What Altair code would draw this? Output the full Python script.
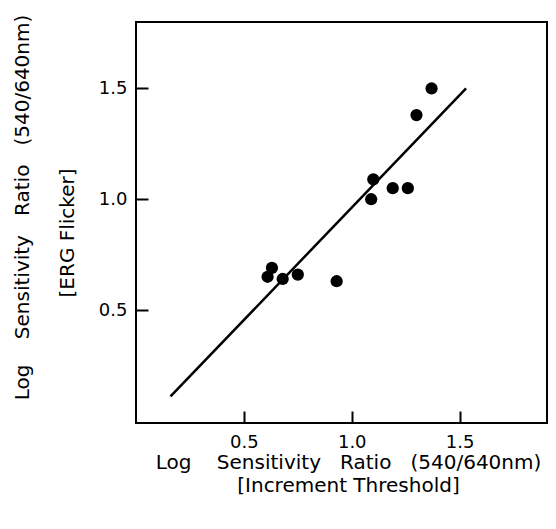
import altair as alt
import pandas as pd

# Data
x_vals = [1.37, 1.30, 1.10, 1.09, 1.19, 1.26, 0.63, 0.61, 0.68, 0.75, 0.93]
y_vals = [1.50, 1.38, 1.09, 1.00, 1.05, 1.05, 0.69, 0.65, 0.64, 0.66, 0.63]
fit_x = [0.16, 1.53]
fit_y = [0.11, 1.50]
tick_vals = [0.5, 1.0, 1.5]

NB = "\u00a0"
ZW = "\u200b"
x_title = ["Log" + NB * 4 + "Sensitivity" + NB * 3 + "Ratio" + NB * 3 + "(540/640nm)",
           "[Increment Threshold]"]
y_title = ["Log" + NB * 4 + "Sensitivity" + NB * 3 + "Ratio" + NB * 3 + "(540/640nm)",
           "[ERG Flicker]" + NB * 8 + ZW]

pts = pd.DataFrame({"x": x_vals, "y": y_vals})
fit = pd.DataFrame({"x": fit_x, "y": fit_y})

xscale = alt.Scale(domain=[0, 1.905], nice=False, zero=False)
yscale = alt.Scale(domain=[-0.01, 1.8], nice=False, zero=False)

FONT = "DejaVu Sans"

x_axis = alt.Axis(
    values=tick_vals, format=".1f", domain=False, ticks=True, tickSize=12,
    tickWidth=2, tickColor="black", offset=-12, grid=False,
    labelFont=FONT, labelFontSize=18, labelColor="black", labelPadding=10,
    labelBaseline="top",
    title=x_title, titleFont=FONT, titleFontSize=20, titleFontWeight="normal",
    titleColor="black", titleLineHeight=23, titleX=212, titleY=57,
    titleAlign="center", titleBaseline="alphabetic", titleAnchor="middle",
)
y_axis = alt.Axis(
    values=tick_vals, format=".1f", domain=False, ticks=True, tickSize=12,
    tickWidth=2, tickColor="black", offset=-12, grid=False,
    labelFont=FONT, labelFontSize=18, labelColor="black", labelPadding=9,
    title=y_title, titleFont=FONT, titleFontSize=20, titleFontWeight="normal",
    titleColor="black", titleLineHeight=45, titleX=-120, titleY=185,
    titleAngle=270, titleAlign="center", titleBaseline="alphabetic",
    titleAnchor="middle",
)

points = alt.Chart(pts).mark_circle(color="black", opacity=1, size=150).encode(
    x=alt.X("x:Q", scale=xscale, axis=x_axis),
    y=alt.Y("y:Q", scale=yscale, axis=y_axis),
)

line = alt.Chart(fit).mark_line(color="black", strokeWidth=2.5).encode(
    x=alt.X("x:Q", scale=xscale, axis=x_axis),
    y=alt.Y("y:Q", scale=yscale, axis=y_axis),
)

chart = alt.layer(points, line).properties(
    width=411, height=401,
    autosize=alt.AutoSizeParams(type="none"),
    padding={"left": 128, "top": 14, "right": 1, "bottom": 90},
    background="white",
).configure_view(stroke="black", strokeWidth=2)

chart.save("out.html", embed_options={"renderer": "svg", "actions": False})
